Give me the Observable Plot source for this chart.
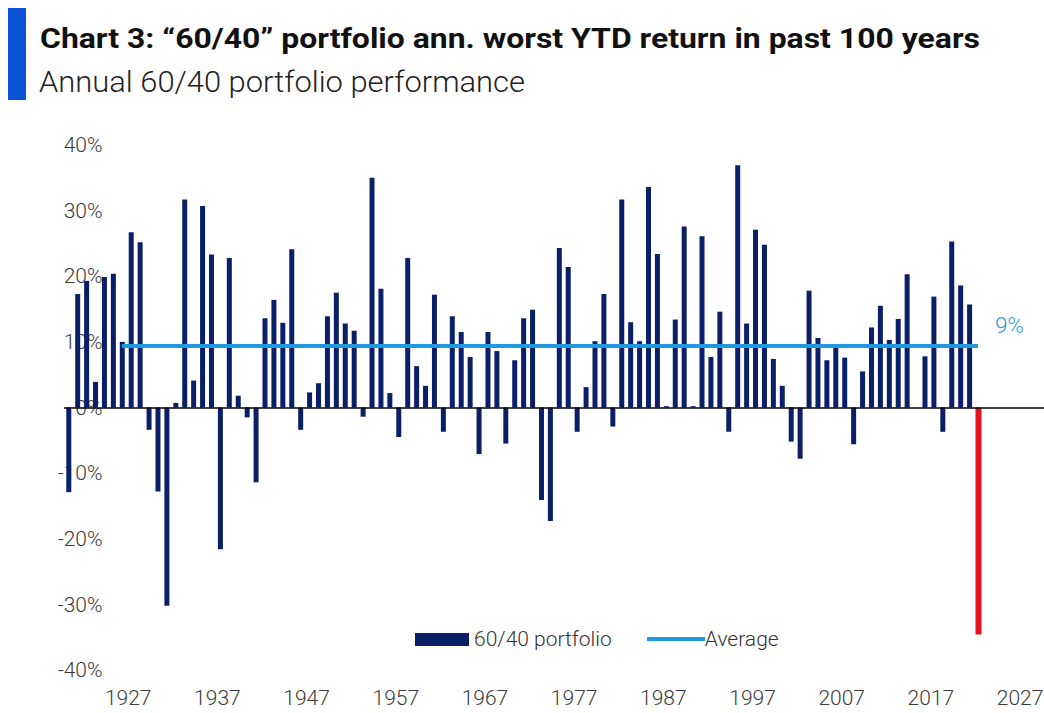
<!DOCTYPE html>
<html>
<head>
<meta charset="utf-8">
<script src="https://cdn.jsdelivr.net/npm/d3@7"></script>
<script src="https://cdn.jsdelivr.net/npm/@observablehq/plot@0.6"></script>
<style>
  html, body { margin: 0; padding: 0; background: #fff; }
  #wrap { position: relative; width: 1044px; height: 713px; overflow: hidden; font-family: Roboto, "Open Sans", sans-serif; }
  #bar { position: absolute; left: 8px; top: 8px; width: 18px; height: 92px; background: #0a52d6; }
  #title { position: absolute; left: 40px; top: 24px; font-size: 27px; line-height: 30px; font-weight: 700; color: #111; white-space: nowrap; transform-origin: 0 50%; }
  #subtitle { position: absolute; left: 39px; top: 66px; font-size: 29px; line-height: 32px; font-weight: 300; color: #222; white-space: nowrap; transform-origin: 0 50%; }
  #chart { position: absolute; left: 0; top: 110px; }
  #legend { position: absolute; left: 415px; top: 626px; height: 26px; display: flex; align-items: center; font-size: 21px; font-weight: 300; color: #333; white-space: nowrap; }
  .sw-bar { width: 54px; height: 13px; margin-right: 5px; }
  .sw-line { width: 58px; height: 4px; margin-left: 35px; }
</style>
</head>
<body>
<div id="wrap">
  <div id="bar"></div>
  <div id="title"></div>
  <div id="subtitle"></div>
  <div id="chart"></div>
  <div id="legend"></div>
</div>
<script>
// ---- Data ----
const titleText = "Chart 3: \u201C60/40\u201D portfolio ann. worst YTD return in past 100 years";
const subtitleText = "Annual 60/40 portfolio performance";
const firstYear = 1920;
// Annual 60/40 portfolio returns (%), 1920 .. 2022 (2022 = YTD)
const returns = [
  -12.9, 17.3, 19.3, 3.9, 19.9, 20.4, 10.0, 26.7, 25.2, -3.4,   // 1920-1929
  -12.8, -30.2, 0.7, 31.7, 4.1, 30.7, 23.3, -21.6, 22.8, 1.8,    // 1930-1939
  -1.5, -11.4, 13.6, 16.4, 12.9, 24.1, -3.4, 2.3, 3.7, 13.9,     // 1940-1949
  17.5, 12.8, 11.7, -1.4, 35.0, 18.1, 2.2, -4.5, 22.8, 6.3,      // 1950-1959
  3.3, 17.2, -3.7, 13.9, 11.5, 7.7, -7.1, 11.5, 8.6, -5.5,       // 1960-1969
  7.2, 13.6, 14.9, -14.1, -17.3, 24.3, 21.4, -3.7, 3.1, 10.1,    // 1970-1979
  17.3, -2.9, 31.7, 13.0, 10.1, 33.6, 23.4, 0.2, 13.4, 27.6,     // 1980-1989
  0.2, 26.1, 7.7, 14.6, -3.7, 36.9, 12.8, 27.1, 24.8, 7.4,       // 1990-1999
  3.3, -5.2, -7.8, 17.8, 10.6, 7.2, 9.1, 7.6, -5.6, 5.5,         // 2000-2009
  12.2, 15.5, 10.3, 13.5, 20.3, 0.0, 7.8, 16.9, -3.7, 25.3,      // 2010-2019
  18.6, 15.7, -34.6                                              // 2020-2022
];
const highlightYear = 2022;
const averageValue = 9.45;
const averageLabel = "9%";
const averageFrom = 1926;
const averageTo = 2022;
const yTicks = [-40, -30, -20, -10, 0, 10, 20, 30, 40];
const xTicks = [1927, 1937, 1947, 1957, 1967, 1977, 1987, 1997, 2007, 2017, 2027];
const seriesNames = ["60/40 portfolio", "Average"];

// ---- Styles ----
const navy = "#0b1f68";
const lightBlue = "#1f9ae0";
const red = "#e3141c";
const labelColor = "#3a3a3a";

const data = returns.map((v, i) => ({year: firstYear + i, value: v}));

function fitWidth(el, target) {
  const w = el.getBoundingClientRect().width;
  if (w > 0) el.style.transform = `scaleX(${target / w})`;
}
const titleEl = document.getElementById("title");
const subEl = document.getElementById("subtitle");
titleEl.textContent = titleText;
subEl.textContent = subtitleText;
fitWidth(titleEl, 940);
fitWidth(subEl, 486);

const chart = Plot.plot({
  width: 1044,
  height: 603,
  marginTop: 35,
  marginBottom: 43,
  marginLeft: 64,
  marginRight: 0,
  style: {fontFamily: "Roboto, sans-serif", background: "transparent", overflow: "visible"},
  x: {type: "linear", domain: [1919.52, 2029.4], label: null},
  y: {domain: [-40, 40], label: null},
  marks: [
    Plot.axisY({ticks: yTicks, tickSize: 0, tickPadding: 0, dx: 38, tickFormat: d => d + "%",
                label: null, fontSize: 21, fontWeight: 300, fill: labelColor}),
    Plot.ruleX(data.filter(d => d.year !== highlightYear), {x: "year", y1: 0, y2: "value", stroke: navy, strokeWidth: 5}),
    Plot.ruleX(data.filter(d => d.year === highlightYear), {x: "year", y1: 0, y2: "value", stroke: red, strokeWidth: 6}),
    Plot.ruleY([0], {stroke: "#000", strokeWidth: 1.5}),
    Plot.ruleY([averageValue], {x1: averageFrom, x2: averageTo, stroke: lightBlue, strokeWidth: 4}),
    Plot.text([averageLabel], {x: averageTo, y: averageValue, text: d => d, dx: 31, dy: -20,
               fill: lightBlue, fontSize: 22, fontWeight: 300}),
    Plot.axisX({ticks: xTicks, tickSize: 0, tickPadding: 20, dx: -3, tickFormat: d => String(d),
                label: null, fontSize: 21, fontWeight: 300, fill: labelColor})
  ]
});
document.getElementById("chart").appendChild(chart);

const legend = document.getElementById("legend");
legend.innerHTML =
  `<div class="sw-bar" style="background:${navy}"></div><span>${seriesNames[0]}</span>` +
  `<div class="sw-line" style="background:${lightBlue}"></div><span>${seriesNames[1]}</span>`;
</script>
</body>
</html>
